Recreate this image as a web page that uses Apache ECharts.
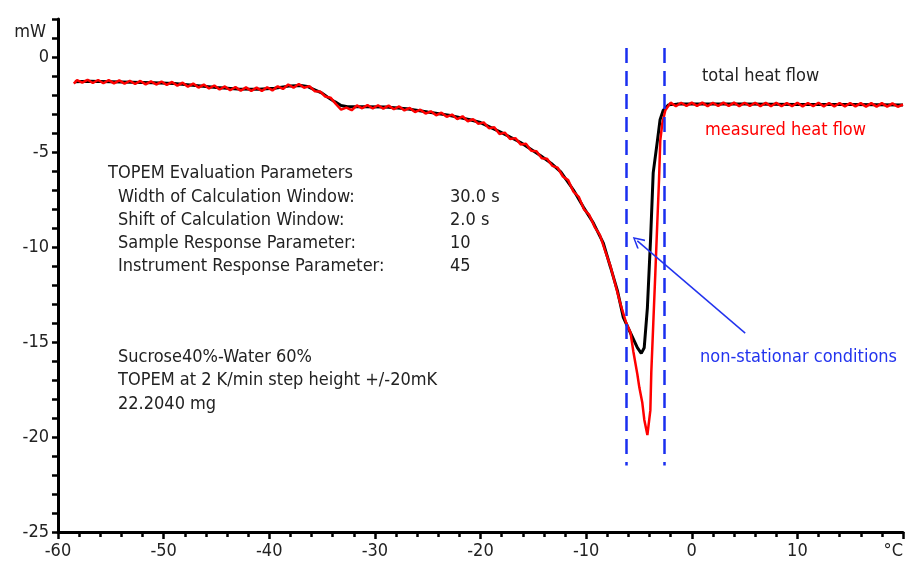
<!DOCTYPE html>
<html>
<head>
<meta charset="utf-8">
<script src="https://cdn.jsdelivr.net/npm/echarts@6/dist/echarts.min.js"></script>
<style>
html,body{margin:0;padding:0;background:#fff;}
#chart{width:907px;height:563px;}
</style>
</head>
<body>
<div id="chart"></div>
<script>
// ---- data ----
const totalTemp = [-58.4,-57,-55,-53,-51,-49,-47,-45,-43,-41,-39.5,-38,-37,-36.4,-35.8,-35,-34.5,-33.8,-33.2,-32.6,-31,-29,-27,-25,-23,-21,-20,-18.1,-16.2,-14.3,-13.3,-12.4,-11.2,-10.26,-9.31,-8.37,-7.7,-7.04,-6.48,-5.82,-5.15,-4.78,-4.5,-4.2,-3.9,-3.65,-3.25,-3.0,-2.7,-2.2,-1.4,0,5,10,15,20];
const totalHF   = [-1.3,-1.28,-1.3,-1.33,-1.36,-1.4,-1.5,-1.6,-1.68,-1.7,-1.65,-1.52,-1.5,-1.55,-1.7,-1.9,-2.1,-2.35,-2.55,-2.62,-2.62,-2.63,-2.72,-2.9,-3.07,-3.3,-3.45,-3.95,-4.5,-5.2,-5.6,-6.05,-7.0,-7.9,-8.74,-9.8,-11.05,-12.3,-13.7,-14.5,-15.3,-15.6,-15.3,-13.2,-9.6,-6.1,-4.4,-3.3,-2.8,-2.52,-2.48,-2.48,-2.48,-2.5,-2.5,-2.52];

const measTemp = [-58.5,-58.2,-57.7,-57.2,-56.7,-56.2,-55.7,-55.2,-54.7,-54.2,-53.7,-53.2,-52.7,-52.2,-51.7,-51.2,-50.7,-50.2,-49.7,-49.2,-48.7,-48.2,-47.7,-47.2,-46.7,-46.2,-45.7,-45.2,-44.7,-44.2,-43.7,-43.2,-42.7,-42.2,-41.7,-41.2,-40.7,-40.2,-39.7,-39.2,-38.7,-38.2,-37.7,-37.2,-36.7,-36.2,-35.7,-35.2,-34.7,-34.2,-33.7,-33.2,-32.7,-32.2,-31.7,-31.2,-30.7,-30.2,-29.7,-29.2,-28.7,-28.2,-27.7,-27.2,-26.7,-26.2,-25.7,-25.2,-24.7,-24.2,-23.7,-23.2,-22.7,-22.2,-21.7,-21.2,-20.7,-20.2,-19.7,-19.2,-18.7,-18.2,-17.7,-17.2,-16.7,-16.2,-15.7,-15.2,-14.7,-14.2,-13.7,-13.2,-12.7,-12.2,-11.7,-11.2,-10.7,-10.2,-9.7,-9.2,-8.7,-8.2,-7.7,-7.2,-6.7,-6.2,-5.8,-5.53,-5.15,-4.96,-4.68,-4.49,-4.2,-3.92,-3.83,-3.64,-3.45,-3.26,-3.1,-2.98,-2.79,-2.5,-2.0,-1.5,-1.0,-0.5,0,0.5,1.0,1.5,2.0,2.5,3.0,3.5,4.0,4.5,5.0,5.5,6.0,6.5,7.0,7.5,8.0,8.5,9.0,9.5,10.0,10.5,11.0,11.5,12.0,12.5,13.0,13.5,14.0,14.5,15.0,15.5,16.0,16.5,17.0,17.5,18.0,18.5,19.0,19.5,20.0];
const measHF   = [-1.4,-1.22,-1.35,-1.2,-1.37,-1.21,-1.38,-1.22,-1.39,-1.23,-1.41,-1.25,-1.42,-1.26,-1.44,-1.28,-1.45,-1.29,-1.47,-1.31,-1.51,-1.35,-1.56,-1.4,-1.61,-1.45,-1.66,-1.5,-1.71,-1.55,-1.75,-1.58,-1.78,-1.6,-1.79,-1.61,-1.79,-1.59,-1.76,-1.54,-1.68,-1.45,-1.62,-1.42,-1.62,-1.53,-1.8,-1.81,-2.08,-2.14,-2.47,-2.77,-2.66,-2.8,-2.55,-2.7,-2.53,-2.71,-2.54,-2.72,-2.56,-2.75,-2.6,-2.81,-2.68,-2.9,-2.77,-2.98,-2.86,-3.07,-2.93,-3.15,-3.03,-3.27,-3.12,-3.38,-3.27,-3.52,-3.44,-3.75,-3.7,-4.05,-3.98,-4.32,-4.27,-4.6,-4.56,-4.93,-4.96,-5.33,-5.35,-5.73,-5.82,-6.29,-6.48,-7.09,-7.36,-8.02,-8.31,-8.94,-9.36,-10.2,-11.0,-12.05,-13.1,-14.0,-14.5,-15.5,-16.7,-17.4,-18.2,-19.1,-19.9,-18.6,-16.6,-14.0,-11.4,-8.7,-6.5,-4.4,-3.5,-2.8,-2.4,-2.59,-2.41,-2.58,-2.4,-2.58,-2.4,-2.59,-2.41,-2.58,-2.4,-2.58,-2.4,-2.59,-2.41,-2.58,-2.41,-2.59,-2.41,-2.59,-2.41,-2.59,-2.42,-2.59,-2.41,-2.6,-2.42,-2.59,-2.41,-2.6,-2.42,-2.6,-2.42,-2.6,-2.42,-2.6,-2.43,-2.61,-2.43,-2.61,-2.43,-2.61,-2.44,-2.62,-2.5];

const xMin = -60, xMax = 20, xStep = 10;
const yMin = -25, yMax = 2, yStep = 5;
const windowTemps = [-6.2, -2.6];     // calculation window borders (°C)
const windowRange = [0.47, -21.5];    // vertical extent of the dashed lines (mW)
const arrowFrom = [5.06, -14.53];
const arrowTo = [-5.15, -9.68];

const paramNames = ['Width of Calculation Window:', 'Shift of Calculation Window:', 'Sample Response Parameter:', 'Instrument Response Parameter:'];
const paramValues = ['30.0 s', '2.0 s', '10', '45'];
const sampleLines = ['Sucrose40%-Water 60%', 'TOPEM at 2 K/min step height +/-20mK', '22.2040 mg'];

// ---- chart ----
const FONT = "'DejaVu Sans Condensed', 'Liberation Sans', sans-serif";
const zip = (a, b) => a.map((v, i) => [v, b[i]]);

const graphics = [];
function txt(x, y, text, color) {
  graphics.push({type: 'text', x: x, y: y, silent: true,
    style: {text: text, fill: color || '#222', font: '18px ' + FONT, verticalAlign: 'middle', align: 'left'}});
}
txt(108, 173, 'TOPEM Evaluation Parameters');
paramNames.forEach((n, i) => txt(118, 197 + i * 23, n));
paramValues.forEach((n, i) => txt(450, 197 + i * 23, n));
sampleLines.forEach((n, i) => txt(118, 357 + i * 23.5, n));
txt(702, 76, 'total heat flow');
txt(705, 130, 'measured heat flow', '#ff0000');
txt(700, 357, 'non-stationar conditions', '#2233ee');
graphics.push({type: 'text', x: 46, y: 32, silent: true,
  style: {text: 'mW', fill: '#222', font: '18px ' + FONT, verticalAlign: 'middle', align: 'right'}});

const chart = echarts.init(document.getElementById('chart'), null, {renderer: 'canvas'});
chart.setOption({
  animation: false,
  backgroundColor: '#fff',
  grid: {left: 58, right: 4, top: 19, bottom: 31, containLabel: false, outerBoundsMode: 'none'},
  xAxis: {
    type: 'value', min: xMin, max: xMax, interval: xStep,
    axisLine: {show: true, onZero: false, lineStyle: {color: '#000', width: 3}},
    axisTick: {show: true, inside: false, length: 7, lineStyle: {color: '#000', width: 2.5}},
    minorTick: {show: true, splitNumber: 5, length: 5, lineStyle: {color: '#000', width: 2.5}},
    splitLine: {show: false},
    axisLabel: {color: '#222', fontSize: 18, fontFamily: FONT, margin: 10, alignMaxLabel: 'right',
      formatter: v => v === xMax ? '°C' : String(v)}
  },
  yAxis: {
    type: 'value', min: yMin, max: yMax, interval: yStep,
    axisLine: {show: true, onZero: false, lineStyle: {color: '#000', width: 3}},
    axisTick: {show: true, inside: false, length: 6, lineStyle: {color: '#000', width: 2.5}},
    minorTick: {show: true, splitNumber: 5, length: 6, lineStyle: {color: '#000', width: 2.5}},
    splitLine: {show: false},
    axisLabel: {color: '#222', fontSize: 18, fontFamily: FONT, margin: 9,
      formatter: v => (v % yStep === 0) ? String(v) : ''}
  },
  graphic: graphics,
  series: [
    {
      name: 'total heat flow', type: 'line', data: zip(totalTemp, totalHF),
      showSymbol: false, smooth: false, z: 2,
      lineStyle: {color: '#000', width: 3},
      markLine: {
        silent: true, symbol: 'none', animation: false,
        label: {show: false},
        lineStyle: {color: '#1a2ff0', width: 2.5, type: [15, 8]},
        data: windowTemps.map(t => [{coord: [t, windowRange[0]]}, {coord: [t, windowRange[1]]}])
      }
    },
    {
      name: 'measured heat flow', type: 'line', data: zip(measTemp, measHF),
      showSymbol: false, smooth: false, z: 3,
      lineStyle: {color: '#ff0000', width: 2.5},
      markLine: {
        silent: true, animation: false,
        symbol: ['none', 'path://M5,0 L10,9 L9,10 L5,2.5 L1,10 L0,9 Z'],
        symbolSize: 12,
        label: {show: false},
        lineStyle: {color: '#2233ee', width: 1.5, type: 'solid'},
        data: [[{coord: arrowFrom}, {coord: arrowTo}]]
      }
    }
  ]
});
</script>
</body>
</html>
